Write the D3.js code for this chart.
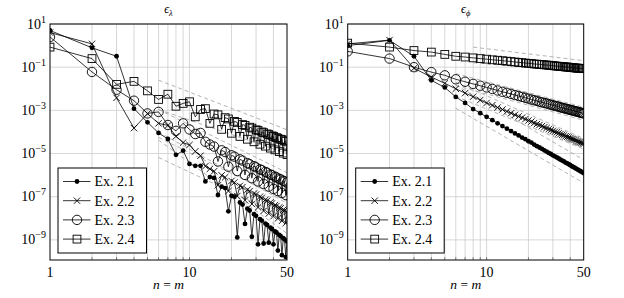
<!DOCTYPE html>
<html>
<head>
<meta charset="utf-8">
<script src="https://cdn.jsdelivr.net/npm/d3@7"></script>
<style>
  body { margin: 0; background: #fff; }
  svg { display: block; }
</style>
</head>
<body>
<svg id="chart" width="624" height="298"></svg>
<script>
"use strict";

// n = m, shared by all series
var nVals = [1,2,3,4,5,6,7,8,9,10,11,12,13,14,15,16,17,18,19,20,21,22,23,24,25,
             26,27,28,29,30,31,32,33,34,35,36,37,38,39,40,41,42,43,44,45,46,47,48,49,50];

// left panel, epsilon_lambda
var lamEx21 = [5.0,0.79,0.32,1.2e-3,2.8e-4,9e-5,4.7e-5,8.7e-6,1.35e-5,3.3e-6,2.7e-6,2.7e-6,5.1e-7,8.1e-7,7.4e-7,
               1.2e-7,2.9e-7,2.5e-7,2.1e-8,1.1e-7,1.0e-7,1.3e-9,5.4e-8,4.3e-8,5.5e-9,2.8e-8,2.3e-8,1.4e-9,1.55e-8,1.3e-8,
               6.2e-10,9.1e-9,7.8e-9,6.8e-10,5.7e-9,4.9e-9,7.4e-10,3.7e-9,3.2e-9,6.2e-10,2.45e-9,2.2e-9,3.2e-10,1.7e-9,1.5e-9,
               1.95e-10,1.2e-9,1.06e-9,1.6e-10,8.5e-10];
var lamEx22 = [4.0,1.2,3.8e-3,1.5e-4,7e-4,2.5e-4,2e-4,6.3e-5,3.2e-5,2.5e-5,1.26e-5,7.9e-6,2.6e-6,1.95e-6,1.51e-6,
               3.4e-7,9.8e-7,7.9e-7,1.82e-7,5.4e-7,4.6e-7,1.07e-7,3.2e-7,2.8e-7,6.8e-8,2.1e-7,1.82e-7,4.6e-8,1.41e-7,1.26e-7,
               3.2e-8,1.0e-7,8.9e-8,2.2e-8,7.2e-8,6.5e-8,1.66e-8,5.4e-8,4.9e-8,1.26e-8,4.1e-8,3.7e-8,9.8e-9,3.2e-8,2.9e-8,
               7.6e-9,2.5e-8,2.3e-8,6.0e-9,2.0e-8];
var lamEx23 = [2.5,0.06,9e-3,2.8e-3,7.2e-4,8.5e-4,2.1e-4,1.12e-4,2.5e-4,1.3e-4,8e-5,9e-5,3.5e-5,2.6e-5,2.1e-5,
               4.3e-6,1.41e-5,1.17e-5,2.45e-6,8.3e-6,7.2e-6,1.55e-6,5.4e-6,4.7e-6,1.02e-6,3.6e-6,3.2e-6,7.2e-7,2.6e-6,2.3e-6,
               5.1e-7,1.86e-6,1.7e-6,3.9e-7,1.41e-6,1.29e-6,2.95e-7,1.07e-6,1.0e-6,2.3e-7,8.5e-7,7.8e-7,1.82e-7,6.8e-7,6.3e-7,
               1.48e-7,5.5e-7,5.1e-7,1.2e-7,4.5e-7];
var lamEx24 = [0.85,0.25,0.016,0.022,8e-3,3.2e-3,5.6e-3,1.55e-3,2.1e-3,2.5e-3,5e-4,1.1e-3,1.2e-3,2.5e-4,6.8e-4,
               6.2e-4,1.32e-4,4.6e-4,4.0e-4,8.7e-5,3.1e-4,2.75e-4,6.2e-5,2.2e-4,2.0e-4,4.6e-5,1.66e-4,1.51e-4,3.5e-5,1.26e-4,
               1.17e-4,2.7e-5,1.0e-4,9.3e-5,2.2e-5,8.1e-5,7.6e-5,1.78e-5,6.6e-5,6.2e-5,1.48e-5,5.5e-5,5.1e-5,1.23e-5,4.6e-5,
               4.4e-5,1.05e-5,3.9e-5,3.7e-5,8.9e-6];

// right panel, epsilon_phi
var phiEx21 = [1.0,1.75,0.32,0.0245,0.0115,4.2e-3,2.2e-3,1.15e-3,7.4e-4,5.0e-4,3.5e-4,2.5e-4,1.86e-4,1.41e-4,1.1e-4,
               8.5e-5,6.9e-5,5.5e-5,4.6e-5,3.7e-5,3.2e-5,2.6e-5,2.2e-5,1.9e-5,1.66e-5,1.41e-5,1.23e-5,1.07e-5,9.5e-6,8.3e-6,
               7.4e-6,6.6e-6,5.9e-6,5.2e-6,4.7e-6,4.3e-6,3.8e-6,3.5e-6,3.2e-6,2.9e-6,2.6e-6,2.4e-6,2.2e-6,2.0e-6,1.86e-6,
               1.7e-6,1.58e-6,1.45e-6,1.35e-6,1.23e-6];
var phiEx22 = [1.2,1.8,0.089,0.035,0.0178,0.01,6.3e-3,4.3e-3,3.0e-3,2.2e-3,1.74e-3,1.35e-3,1.1e-3,8.9e-4,7.4e-4,
               6.2e-4,5.2e-4,4.6e-4,3.9e-4,3.4e-4,3.0e-4,2.6e-4,2.3e-4,2.1e-4,1.86e-4,1.66e-4,1.51e-4,1.35e-4,1.23e-4,1.12e-4,
               1.02e-4,9.5e-5,8.7e-5,7.9e-5,7.4e-5,6.9e-5,6.3e-5,5.9e-5,5.5e-5,5.1e-5,4.8e-5,4.6e-5,4.3e-5,4.0e-5,3.7e-5,
               3.5e-5,3.3e-5,3.2e-5,3.0e-5,2.8e-5];
var phiEx23 = [0.54,0.25,0.1,0.059,0.042,0.0275,0.0211,0.0168,0.0138,0.0115,9.8e-3,8.3e-3,7.2e-3,6.5e-3,5.75e-3,
               5.1e-3,4.6e-3,4.2e-3,3.8e-3,3.5e-3,3.16e-3,2.95e-3,2.75e-3,2.5e-3,2.35e-3,2.2e-3,2.1e-3,1.95e-3,1.82e-3,1.74e-3,
               1.62e-3,1.55e-3,1.48e-3,1.38e-3,1.32e-3,1.26e-3,1.2e-3,1.15e-3,1.1e-3,1.05e-3,1.0e-3,9.8e-4,9.3e-4,8.9e-4,8.7e-4,
               8.3e-4,7.9e-4,7.8e-4,7.4e-4,7.2e-4];
var phiEx24 = [1.3,0.85,0.59,0.5,0.39,0.32,0.295,0.27,0.25,0.235,0.22,0.21,0.2,0.19,0.182,
               0.174,0.166,0.162,0.155,0.151,0.148,0.141,0.138,0.135,0.132,0.129,0.126,0.123,0.12,0.1175,
               0.115,0.112,0.11,0.109,0.107,0.105,0.102,0.101,0.1,0.098,0.0955,0.095,0.093,0.091,0.0905,
               0.089,0.0885,0.087,0.0865,0.085];

// dashed guide lines: [n start, value start, n end, value end]
var lamGuides = [[6,2.5e-2,50,1.26e-4],[6,1.1e-3,50,1.0e-5],[6,1.1e-3,50,1.3e-6],
                 [6,5.6e-5,50,6.3e-8],[6,1.0e-4,50,5.0e-8],[6,6.6e-6,50,1.0e-8],[6,4.2e-5,50,2.0e-9]];
var phiGuides = [[8,0.85,50,0.2],[8,0.16,50,0.06],[6,0.05,50,1.4e-3],[6,0.014,50,3.5e-4],
                 [6,0.02,50,5.0e-5],[6,4.5e-3,50,1.6e-5],[6,0.015,50,5.1e-6],[6,1.25e-3,50,4.3e-7]];

var xTicks = [1, 10, 50];
var xGrid = [2,3,4,5,6,7,8,9,10,20,30,40];
var yTickExp = [1, -1, -3, -5, -7, -9];
var legendLabels = ["Ex. 2.1", "Ex. 2.2", "Ex. 2.3", "Ex. 2.4"];
var markerTypes = ["dot", "cross", "circle", "square"];

var SERIF = "'Liberation Serif', 'DejaVu Serif', serif";
var svg = d3.select("#chart").attr("font-family", SERIF);
var TOP = 24, BOTTOM = 260;

function appendMarker(onto, type, cx, cy) {
    if (type === "dot") {
        onto.append("circle").attr("cx", cx).attr("cy", cy).attr("r", 2.4)
            .style("fill", "#000").style("stroke", "none");
    } else if (type === "cross") {
        var s = 3.2;
        onto.append("path")
            .attr("d", "M" + (cx - s) + "," + (cy - s) + "L" + (cx + s) + "," + (cy + s) +
                       "M" + (cx - s) + "," + (cy + s) + "L" + (cx + s) + "," + (cy - s))
            .style("stroke", "#000").style("stroke-width", 0.9).style("fill", "none");
    } else if (type === "circle") {
        onto.append("circle").attr("cx", cx).attr("cy", cy).attr("r", 4.7)
            .style("fill", "none").style("stroke", "#000").style("stroke-width", 0.9);
    } else {
        var h = 3.9;
        onto.append("rect").attr("x", cx - h).attr("y", cy - h).attr("width", 2 * h).attr("height", 2 * h)
            .style("fill", "none").style("stroke", "#000").style("stroke-width", 0.9);
    }
}

function addText(onto, x, y, size) {
    return onto.append("text").attr("x", x).attr("y", y)
        .attr("font-family", SERIF).style("font-family", SERIF)
        .style("font-size", size + "px").style("fill", "#000");
}

function drawPanel(id, x0, x1, sub, seriesList, guides) {
    var x = d3.scaleLog().domain([1, 50]).range([x0, x1]);
    var y = d3.scaleLog().domain([1.17e-10, 10]).range([BOTTOM, TOP]);
    var g = svg.append("g");

    // grid
    g.selectAll(".vgrid").data(xGrid).enter().append("line")
        .attr("x1", function (d) { return x(d); }).attr("x2", function (d) { return x(d); })
        .attr("y1", TOP).attr("y2", BOTTOM)
        .style("stroke", "#cdcdcd").style("stroke-width", 0.8);
    g.selectAll(".hgrid").data(yTickExp).enter().append("line")
        .attr("x1", x0).attr("x2", x1)
        .attr("y1", function (d) { return y(Math.pow(10, d)); })
        .attr("y2", function (d) { return y(Math.pow(10, d)); })
        .style("stroke", "#cdcdcd").style("stroke-width", 0.8);

    // small inward ticks
    g.selectAll(".xtk").data(xGrid).enter().append("line")
        .attr("x1", function (d) { return x(d); }).attr("x2", function (d) { return x(d); })
        .attr("y1", BOTTOM).attr("y2", BOTTOM - 3)
        .style("stroke", "#555").style("stroke-width", 0.7);

    // clip
    svg.append("clipPath").attr("id", "clip" + id).append("rect")
        .attr("x", x0).attr("y", TOP).attr("width", x1 - x0).attr("height", BOTTOM - TOP);
    var plot = g.append("g").attr("clip-path", "url(#clip" + id + ")");

    // dashed guides
    plot.selectAll(".guide").data(guides).enter().append("line")
        .attr("x1", function (d) { return x(d[0]); }).attr("y1", function (d) { return y(d[1]); })
        .attr("x2", function (d) { return x(d[2]); }).attr("y2", function (d) { return y(d[3]); })
        .style("stroke", "#a0a0a0").style("stroke-width", 0.8).style("stroke-dasharray", "4,3");

    var line = d3.line().x(function (d) { return x(d[0]); }).y(function (d) { return y(d[1]); });

    seriesList.forEach(function (vals, i) {
        var pts = nVals.map(function (n, k) { return [n, vals[k]]; });
        plot.append("path").attr("d", line(pts))
            .style("fill", "none").style("stroke", "#000").style("stroke-width", 0.8);
        var mg = plot.append("g");
        pts.forEach(function (p) { appendMarker(mg, markerTypes[i], x(p[0]), y(p[1])); });
    });

    // frame
    g.append("rect").attr("x", x0).attr("y", TOP).attr("width", x1 - x0).attr("height", BOTTOM - TOP)
        .style("fill", "none").style("stroke", "#000").style("stroke-width", 1);

    // y labels
    yTickExp.forEach(function (e) {
        var t = addText(g, x0 - 4, y(Math.pow(10, e)) + 4.5, 14).attr("text-anchor", "end");
        t.append("tspan").text("10");
        t.append("tspan").attr("dy", -6).style("font-size", "10px")
            .text(e < 0 ? "\u2212" + (-e) : String(e));
    });

    // x labels
    xTicks.forEach(function (d) {
        addText(g, x(d), 277, 14).attr("text-anchor", "middle").text(d);
    });

    var xl = addText(g, (x0 + x1) / 2, 288.5, 13.5).attr("text-anchor", "middle");
    xl.append("tspan").style("font-style", "italic").text("n");
    xl.append("tspan").text(" = ");
    xl.append("tspan").style("font-style", "italic").text("m");

    // title
    var tt = addText(g, (x0 + x1) / 2, 13, 12).attr("text-anchor", "middle").style("font-style", "italic");
    tt.append("tspan").text("\u03f5");
    tt.append("tspan").attr("dy", 3).style("font-size", "8.5px").text(sub);

    // legend
    var lx = x0 + 8, ly = 168;
    var lg = g.append("g");
    lg.append("rect").attr("x", lx).attr("y", ly).attr("width", 88.5).attr("height", 85)
        .style("fill", "#fff").style("stroke", "#000").style("stroke-width", 1);
    legendLabels.forEach(function (lab, i) {
        var cy = ly + 13.5 + i * 19.2;
        lg.append("line").attr("x1", lx + 5).attr("x2", lx + 32.5).attr("y1", cy).attr("y2", cy)
            .style("stroke", "#000").style("stroke-width", 0.8);
        appendMarker(lg, markerTypes[i], lx + 19, cy);
        addText(lg, lx + 36.5, cy + 4.8, 14).text(lab);
    });
}

drawPanel("L", 50, 287, "\u03bb", [lamEx21, lamEx22, lamEx23, lamEx24], lamGuides);
drawPanel("R", 347.7, 583.7, "\u03d5", [phiEx21, phiEx22, phiEx23, phiEx24], phiGuides);
</script>
</body>
</html>
